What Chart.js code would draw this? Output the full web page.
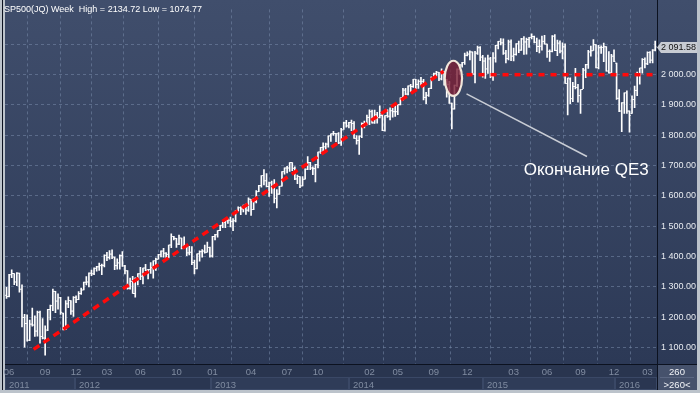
<!DOCTYPE html>
<html>
<head>
<meta charset="utf-8">
<script src="https://cdn.jsdelivr.net/npm/chart.js@4.4.0/dist/chart.umd.min.js"></script>
<style>
  html, body { margin: 0; padding: 0; background: #bcc3cb; }
  #wrap { width: 700px; height: 393px; }
</style>
</head>
<body>
<div id="wrap"><canvas id="mychart" width="700" height="393"></canvas></div>
<script>
// SP500 weekly bars, index 0 = week of 2011-06-20, last = week of 2016-04-18
var opens = [
  1272,1268,1340,1344,1316,1345,1292,1199,1179,1124,1177,1174,1154,1216,1136,1131,1158,1225,1238,1285,1253,1264,1213,1159,1244,1255,1220,1265,
  1258,1278,1290,1315,1316,1345,1343,1361,1366,1370,1371,1404,1397,1408,1398,1370,1379,1403,1369,1353,1295,1318,1278,1326,1343,1335,1362,1355,1357,1363,1386,1391,1406,1418,1411,1407,1438,1466,1460,1441,1461,1429,1433,1412,1414,1380,1360,1409,1416,1418,1414,1430,
  1402,1466,1472,1486,1503,1513,1518,1520,1516,1518,1551,1561,1557,1569,1553,1589,1555,1582,1614,1634,1667,1650,1631,1643,1627,1592,1606,1632,1680,1692,1692,1710,1691,1656,1664,1633,1655,1688,1710,1692,1690,1703,1745,1760,1762,1771,1798,1805,1806,1805,1775,1818,
  1841,1831,1842,1839,1790,1783,1797,1839,1836,1859,1878,1841,1867,1859,1865,1816,1865,1863,1881,1878,1878,1901,1924,1949,1936,1963,1961,1985,1968,1978,1978,1925,1932,1955,1988,2003,2008,1986,2010,1983,1968,1906,1887,1965,2018,2032,2040,2064,2068,2075,2002,2071,
  2089,2058,2045,2019,2052,1995,2055,2097,2110,2105,2071,2053,2108,2061,2067,2102,2081,2118,2108,2116,2123,2126,2107,2093,2094,2110,2101,2077,2077,2127,2080,2104,2078,2092,1971,1986,1921,1961,1958,1931,1951,2015,2033,2075,2079,2099,2023,2089,2090,2092,2012,2006,
  2061,2038,1922,1880,1907,1940,1880,1872,1918,1948,2000,2022,2050,2036,2073,2048,2081
];
var highs = [
  1298,1341,1356,1344,1347,1345,1307,1209,1208,1190,1230,1204,1220,1220,1195,1171,1226,1240,1293,1285,1277,1265,1213,1255,1267,1255,1268,1270,
  1284,1296,1316,1334,1346,1355,1363,1368,1378,1375,1406,1414,1420,1422,1398,1392,1406,1416,1371,1354,1329,1335,1330,1344,1364,1362,1374,1358,1380,1386,1395,1407,1419,1427,1413,1438,1475,1467,1460,1471,1461,1465,1434,1434,1433,1388,1409,1419,1423,1438,1448,1431,
  1467,1473,1486,1503,1514,1519,1524,1530,1525,1552,1564,1564,1570,1573,1594,1589,1592,1618,1635,1667,1687,1674,1646,1649,1654,1621,1632,1680,1693,1698,1710,1710,1696,1669,1664,1664,1689,1730,1711,1696,1704,1745,1760,1775,1774,1798,1805,1813,1806,1809,1823,1844,
  1849,1843,1850,1845,1799,1798,1841,1847,1867,1884,1883,1883,1876,1897,1873,1865,1884,1891,1889,1903,1901,1924,1955,1955,1963,1968,1985,1985,1983,1991,1985,1942,1955,1993,2005,2011,2008,2019,2010,1985,1978,1906,1966,2019,2034,2041,2071,2075,2079,2075,2077,2094,
  2093,2064,2056,2065,2057,2073,2097,2110,2119,2118,2080,2114,2115,2088,2103,2111,2120,2126,2121,2123,2134.72,2127,2121,2115,2127,2130,2101,2082,2129,2132,2114,2112,2105,2102,1989,1990,1975,2021,1968,1951,2021,2034,2080,2094,2116,2099,2097,2095,2104,2093,2076,2067,
  2082,2038,1951,1908,1940,1947,1881,1930,1962,2009,2022,2053,2056,2075,2076,2083,2111
];
var lows = [
  1262,1267,1330,1307,1304,1282,1168,1101,1121,1122,1170,1136,1137,1114,1128,1074.77,1155,1191,1221,1215,1226,1209,1158,1159,1231,1209,1202,1248,
  1258,1275,1290,1306,1300,1337,1340,1352,1354,1340,1366,1386,1391,1393,1357,1358,1358,1367,1343,1292,1292,1278,1266,1306,1324,1310,1353,1326,1344,1329,1354,1391,1399,1398,1397,1395,1429,1455,1430,1439,1425,1427,1403,1405,1373,1343,1359,1385,1398,1411,1414,1398,
  1398,1455,1464,1485,1495,1495,1509,1498,1485,1514,1550,1538,1547,1539,1549,1536,1555,1577,1614,1629,1636,1630,1598,1608,1577,1560,1605,1632,1672,1676,1681,1683,1654,1640,1627,1633,1655,1687,1687,1670,1646,1692,1740,1747,1746,1761,1780,1800,1779,1772,1767,1819,
  1827,1824,1815,1790,1771,1737,1792,1824,1834,1835,1840,1839,1840,1857,1815,1814,1859,1851,1860,1862,1868,1900,1916,1934,1933,1944,1958,1953,1955,1964,1917,1904,1928,1954,1988,1995,1980,1983,1965,1926,1905,1821,1886,1961,2001,2025,2034,2062,2049,2002,1973,2067,
  2046,1992,1988,2004,1990,1981,2041,2085,2098,2067,2039,2049,2046,2045,2064,2073,2080,2067,2068,2090,2118,2105,2076,2072,2081,2101,2057,2044,2075,2079,2063,2072,2052,1971,1867,1904,1911,1953,1909,1872,1954,1990,2021,2061,2080,2022,2019,2070,2043,2012,2005,2005,
  2043,1918,1878,1812,1872,1872,1810,1872,1891,1931,1969,2005,2022,2033,2039,2039,2078
];
var closes = [
  1268,1340,1344,1316,1345,1292,1199,1179,1124,1177,1174,1154,1216,1136,1131,1155,1225,1238,1285,1253,1264,1216,1159,1244,1255,1220,1265,1258,
  1278,1289,1315,1316,1345,1343,1361,1366,1370,1371,1404,1397,1408,1398,1370,1379,1403,1369,1353,1295,1318,1278,1326,1343,1335,1362,1355,1357,1363,1386,1391,1406,1418,1411,1407,1438,1466,1460,1441,1461,1429,1433,1412,1414,1380,1360,1409,1416,1418,1414,1430,1402,
  1466,1472,1486,1503,1513,1518,1520,1516,1518,1551,1561,1557,1569,1553,1589,1555,1582,1614,1634,1667,1650,1631,1643,1627,1592,1606,1632,1680,1692,1692,1710,1691,1656,1664,1633,1655,1688,1710,1692,1690,1703,1745,1760,1762,1771,1798,1805,1806,1805,1775,1818,1841,
  1831,1842,1839,1790,1783,1797,1839,1836,1859,1878,1841,1867,1858,1865,1816,1865,1863,1881,1878,1878,1901,1924,1949,1936,1963,1961,1985,1968,1978,1978,1925,1932,1955,1988,2003,2008,1986,2010,1983,1968,1906,1887,1965,2018,2032,2040,2064,2068,2075,2002,2071,2089,
  2058,2045,2019,2052,1995,2055,2097,2110,2105,2071,2053,2108,2061,2067,2102,2081,2118,2108,2116,2123,2126,2107,2093,2094,2110,2101,2077,2077,2127,2080,2104,2078,2092,1971,1989,1921,1961,1958,1931,1951,2015,2033,2075,2079,2099,2023,2089,2090,2092,2012,2006,2061,
  2044,1922,1880,1907,1940,1880,1865,1918,1948,2000,2022,2050,2036,2073,2048,2081,2091.58
];

// axis ticks
var monthTickIdx = [1, 15, 27, 39, 52, 66, 80, 95, 109, 121, 141, 152, 166, 179, 197, 210, 223, 236, 249];
var monthTickLbl = ['06','09','12','03','06','10','01','04','07','10','02','05','09','12','03','06','09','12','03'];
var yearStartIdx = [-0.6, 26.5, 79.5, 133, 185, 236.5];
var yearLbl = ['2011','2012','2013','2014','2015','2016'];
var priceTicks = [1100, 1200, 1300, 1400, 1500, 1600, 1700, 1800, 1900, 2000, 2100];

// drawn notes, in data units (week index, price)
var trendX = [10.5, 169.8];
var trendY = [1093.6, 2011.3];
var levelX = [178.7, 251.5];
var levelY = [2000, 2000];
var pointerX = [178.7, 225.5];
var pointerY = [1936.7, 1730];
var noteText = 'Окончание QE3';
var noteX = 225.2, noteY = 1684;
var ovalX = 173.6, ovalY = 1988, ovalRX = 3.37, ovalRY = 58;

function fmt(v) {
  var p = v.toFixed(2).split('.');
  return p[0].replace(/\B(?=(\d{3})+(?!\d))/g, ' ') + '.' + p[1];
}

var FONT = 'Liberation Sans, Arial, sans-serif';
Chart.defaults.font.family = FONT;

var backdrop = {
  id: 'backdrop',
  beforeDraw: function (chart) {
    var c = chart.ctx, a = chart.chartArea, xs = chart.scales.x;
    c.save();
    c.fillStyle = '#bcc3cb';
    c.fillRect(0, 0, 700, 393);
    var g = c.createLinearGradient(0, 0, 0, a.bottom);
    g.addColorStop(0, '#404e6c');
    g.addColorStop(1, '#2c3956');
    c.fillStyle = g;
    c.fillRect(a.left, 0, 697 - a.left, a.bottom);
    c.fillStyle = '#29354f';
    c.fillRect(a.left, a.bottom, a.right - a.left, 390 - a.bottom);

    // year row
    c.font = '9.5px ' + FONT;
    c.textBaseline = 'alphabetic';
    for (var k = 0; k < yearLbl.length; k++) {
      var x0 = Math.max(a.left, Math.round(xs.getPixelForValue(yearStartIdx[k])));
      var x1 = k + 1 < yearLbl.length ? Math.round(xs.getPixelForValue(yearStartIdx[k + 1])) : a.right;
      c.fillStyle = k % 2 === 0 ? '#2f3c58' : '#2a3651';
      c.fillRect(x0, 377, x1 - x0, 13);
      c.strokeStyle = '#3a4866';
      c.lineWidth = 1;
      c.strokeRect(x0 + 0.5, 377.5, x1 - x0 - 1, 12);
      c.fillStyle = '#7f8ba0';
      c.fillText(yearLbl[k], x0 + 4, 388);
    }

    // bar count cell
    c.fillStyle = '#46526c';
    c.fillRect(a.right, a.bottom, 697 - a.right, 390 - a.bottom);
    c.fillStyle = '#5b6782';
    c.fillRect(a.right + 3, 377, 697 - a.right - 6, 1);
    c.fillStyle = '#f2f4f8';
    c.textAlign = 'center';
    c.fillText(String(closes.length + 7), (a.right + 697) / 2, 375);
    c.fillText('>' + (closes.length + 7) + '<', (a.right + 697) / 2, 388);

    // separators
    c.fillStyle = '#0c1220';
    c.fillRect(a.right, 0, 1, 390);
    c.fillRect(a.left, a.bottom, 697 - a.left, 1);
    c.fillRect(2, 0, 1, 390);
    c.restore();
  },
  afterDatasetsDraw: function (chart) {
    var c = chart.ctx, xs = chart.scales.x, ys = chart.scales.y;
    var cx = xs.getPixelForValue(ovalX), cy = ys.getPixelForValue(ovalY);
    var rx = xs.getPixelForValue(ovalX + ovalRX) - cx;
    var ry = cy - ys.getPixelForValue(ovalY + ovalRY);
    c.save();
    c.beginPath();
    c.ellipse(cx, cy, rx, ry, 0, 0, Math.PI * 2);
    c.fillStyle = 'rgba(122,30,52,0.8)';
    c.fill();
    c.lineWidth = 2.2;
    c.strokeStyle = '#f1e7db';
    c.stroke();
    c.restore();
  },
  afterDraw: function (chart) {
    var c = chart.ctx, xs = chart.scales.x, ys = chart.scales.y;
    c.save();
    // header
    var hi = Math.max.apply(null, highs), lo = Math.min.apply(null, lows);
    c.font = '9px ' + FONT;
    c.fillStyle = '#ffffff';
    c.textBaseline = 'alphabetic';
    c.fillText('SP500(JQ) Week  High = ' + hi.toFixed(2) + ' Low = ' + lo.toFixed(2), 4, 11.5);

    // note
    c.font = '17px ' + FONT;
    c.textAlign = 'center';
    c.textBaseline = 'middle';
    c.fillText(noteText, xs.getPixelForValue(noteX), ys.getPixelForValue(noteY));

    // last price box
    var last = closes[closes.length - 1];
    var y = Math.round(ys.getPixelForValue(last)) + 0.5;
    c.beginPath();
    c.moveTo(657, y);
    c.lineTo(661, y - 5.5);
    c.lineTo(697, y - 5.5);
    c.lineTo(697, y + 5.5);
    c.lineTo(661, y + 5.5);
    c.closePath();
    c.fillStyle = '#c8ccd3';
    c.fill();
    c.font = '9px ' + FONT;
    c.textAlign = 'left';
    c.fillStyle = '#111111';
    c.fillText(fmt(last), 661, y + 0.5);
    c.restore();
  }
};

var ctx = document.getElementById('mychart').getContext('2d');
var chart = new Chart(ctx, {
  type: 'bar',
  data: {
    datasets: [{
      label: 'High-Low',
      data: highs.map(function (h, i) { return { x: i, y: [lows[i], h] }; }),
      backgroundColor: '#ffffff',
      barThickness: 1,
      borderWidth: 0,
      order: 3
    }, {
      type: 'scatter',
      label: 'Open',
      data: opens.map(function (v, i) { return { x: i - 0.3, y: v }; }),
      pointStyle: 'line',
      radius: 0.6,
      borderColor: '#ffffff',
      borderWidth: 1,
      order: 2
    }, {
      type: 'scatter',
      label: 'Close',
      data: closes.map(function (v, i) { return { x: i + 0.3, y: v }; }),
      pointStyle: 'line',
      radius: 0.6,
      borderColor: '#ffffff',
      borderWidth: 1,
      order: 2
    }, {
      type: 'line',
      label: 'trend',
      data: trendX.map(function (x, i) { return { x: x, y: trendY[i] }; }),
      borderColor: '#ff0a0a',
      borderWidth: 3.5,
      borderDash: [7, 5],
      pointRadius: 0,
      order: 1
    }, {
      type: 'line',
      label: 'level',
      data: levelX.map(function (x, i) { return { x: x, y: levelY[i] }; }),
      borderColor: '#ff0a0a',
      borderWidth: 3.5,
      borderDash: [6, 6],
      pointRadius: 0,
      order: 1
    }, {
      type: 'line',
      label: 'pointer',
      data: pointerX.map(function (x, i) { return { x: x, y: pointerY[i] }; }),
      borderColor: '#c9cdd5',
      borderWidth: 1.5,
      pointRadius: 0,
      order: 1
    }]
  },
  options: {
    responsive: false,
    animation: false,
    events: [],
    layout: { padding: { left: 3, right: 3, top: 0, bottom: 3 } },
    plugins: { legend: { display: false }, tooltip: { enabled: false } },
    scales: {
      x: {
        type: 'linear',
        min: -0.6,
        max: 252.7,
        offset: false,
        afterBuildTicks: function (s) { s.ticks = monthTickIdx.map(function (v) { return { value: v }; }); },
        afterFit: function (s) { s.height = 26; },
        grid: { color: 'rgba(120,138,170,0.55)', drawTicks: false },
        border: { display: true, color: '#0c1220', width: 1, dash: [3, 3] },
        ticks: {
          autoSkip: false,
          maxRotation: 0,
          padding: 3,
          color: '#808ca1',
          font: { size: 9.5 },
          callback: function (v) { var k = monthTickIdx.indexOf(v); return k < 0 ? '' : monthTickLbl[k]; }
        }
      },
      y: {
        position: 'right',
        min: 1045.4,
        max: 2215.4,
        afterBuildTicks: function (s) { s.ticks = priceTicks.map(function (v) { return { value: v }; }); },
        afterFit: function (s) { s.width = 40; },
        grid: { color: 'rgba(120,138,170,0.55)', drawTicks: false },
        border: { display: true, color: '#0c1220', width: 1, dash: [3, 3] },
        ticks: {
          padding: 4,
          color: '#e8ebf0',
          font: { size: 9 },
          callback: function (v) { return v === 2100 ? '' : fmt(v); }
        }
      }
    }
  },
  plugins: [backdrop]
});
</script>
</body>
</html>
